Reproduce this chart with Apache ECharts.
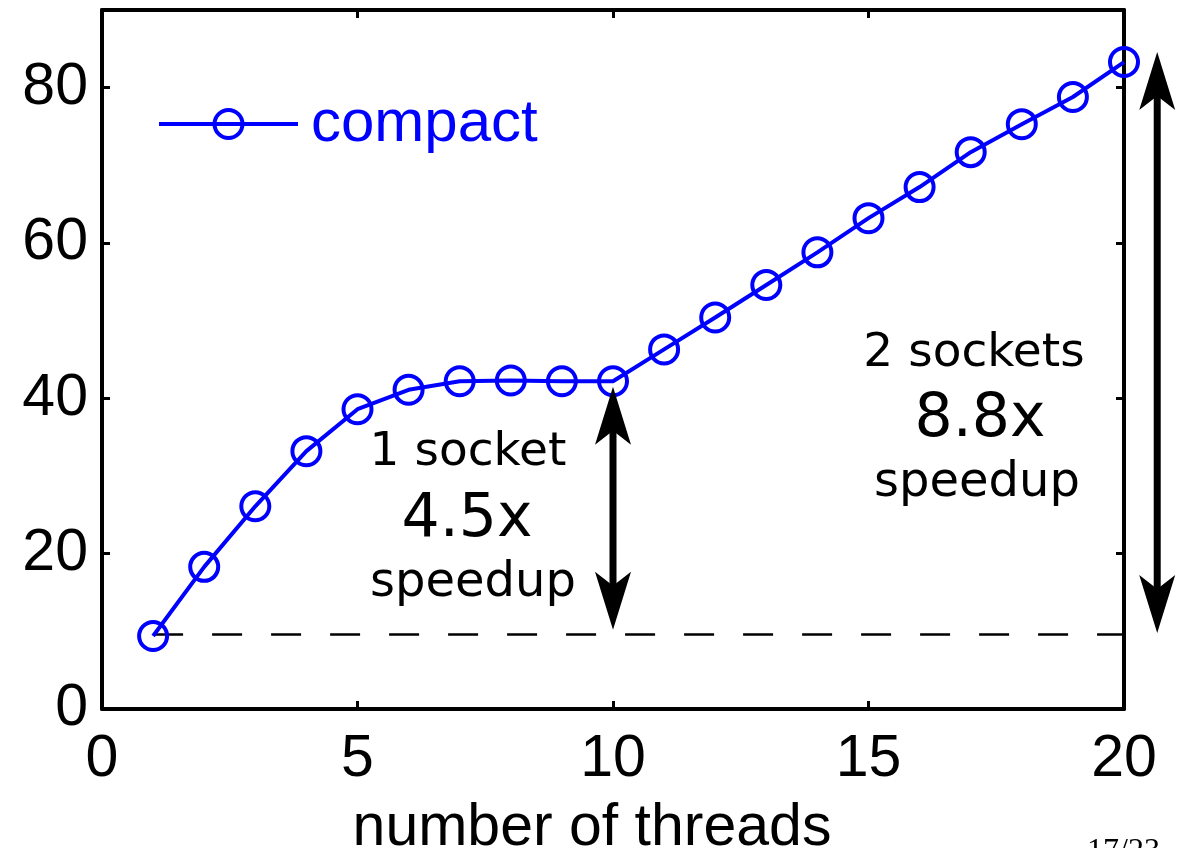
<!DOCTYPE html>
<html>
<head>
<meta charset="utf-8">
<script src="https://cdn.jsdelivr.net/npm/echarts@6/dist/echarts.min.js"></script>
<style>
  html, body { margin: 0; padding: 0; background: #fff; }
  #chart { width: 1179px; height: 848px; }
</style>
</head>
<body>
<div id="chart"></div>
<script>
// Throughput versus thread count, threads placed compactly on sockets
const threads = [1, 2, 3, 4, 5, 6, 7, 8, 9, 10, 11, 12, 13, 14, 15, 16, 17, 18, 19, 20];
const compact = [9.4, 18.3, 26.1, 33.2, 38.6, 41.1, 42.2, 42.3, 42.2, 42.2,
                 46.3, 50.4, 54.6, 58.8, 63.2, 67.2, 71.7, 75.3, 78.8, 83.3];

// single-thread reference level (dashed line)
const baselineX = [1, 20];
const baselineY = [9.6, 9.6];

// double-headed speedup arrows: x position, lower tip, upper tip
const arrowX = [10, 20.65];
const arrowLow = [10.2, 9.8];
const arrowHigh = [41.5, 84.6];

const xTicks = [0, 5, 10, 15, 20];
const yTicks = [0, 20, 40, 60, 80];

const BLUE = '#0000ff';
const SANS = 'Liberation Sans, Arial, Helvetica, sans-serif';
const DEJAVU = 'DejaVu Sans, sans-serif';

const chart = echarts.init(document.getElementById('chart'));

function frameAxis(extra) {
  return Object.assign({
    type: 'value',
    axisLine: { show: true, onZero: false, lineStyle: { color: '#000', width: 4 } },
    axisTick: { show: true, inside: true, length: 8, lineStyle: { color: '#000', width: 3 } },
    splitLine: { show: false },
    axisLabel: { show: false }
  }, extra);
}

// annotation text, placed by its baseline
function note(text, cx, baseline, size) {
  return {
    type: 'text', x: cx, y: baseline - 0.78 * size,
    style: { text: text, font: size + 'px ' + DEJAVU, fill: '#000', textAlign: 'center', textVerticalAlign: 'top' }
  };
}

const option = {
  backgroundColor: '#fff',
  animation: false,
  grid: { left: 102, right: 55, top: 10, bottom: 139, containLabel: false, outerBoundsMode: 'none' },
  legend: {
    data: ['compact'],
    left: 157,
    top: 94,
    padding: 0,
    itemWidth: 139,
    itemHeight: 35,
    lineStyle: { width: 4 },
    itemStyle: { borderWidth: 4 },
    textStyle: { color: BLUE, fontSize: 60, fontFamily: SANS, padding: [0, 0, 0, 8] }
  },
  xAxis: [
    frameAxis({
      position: 'bottom',
      min: xTicks[0], max: xTicks[xTicks.length - 1], interval: xTicks[1] - xTicks[0],
      axisLabel: { show: true, color: '#000', fontSize: 59, fontFamily: SANS, margin: 21 },
      name: 'number of threads',
      nameLocation: 'middle',
      nameGap: 90,
      nameTextStyle: { color: '#000', fontSize: 59, fontFamily: SANS, padding: [0, 42, 0, 0] }
    }),
    frameAxis({
      position: 'top',
      min: xTicks[0], max: xTicks[xTicks.length - 1], interval: xTicks[1] - xTicks[0]
    })
  ],
  yAxis: [
    frameAxis({
      position: 'left',
      min: yTicks[0], max: 90, interval: yTicks[1] - yTicks[0],
      axisLabel: { show: true, color: '#000', fontSize: 59, fontFamily: SANS, margin: 14, showMaxLabel: false }
    }),
    frameAxis({
      position: 'right',
      min: yTicks[0], max: 90, interval: yTicks[1] - yTicks[0]
    })
  ],
  series: [
    {
      name: 'baseline',
      type: 'line',
      xAxisIndex: 0, yAxisIndex: 0,
      data: baselineX.map((x, i) => [x, baselineY[i]]),
      symbol: 'none',
      lineStyle: { color: '#000', width: 2.5, type: [30, 29] },
      silent: true,
      z: 1
    },
    {
      name: 'compact',
      type: 'line',
      xAxisIndex: 0, yAxisIndex: 0,
      data: threads.map((t, i) => [t, compact[i]]),
      symbol: 'circle',
      symbolSize: 28,
      color: BLUE,
      lineStyle: { color: BLUE, width: 4 },
      itemStyle: { color: 'rgba(0,0,0,0)', borderColor: BLUE, borderWidth: 4 },
      clip: false,
      z: 3
    },
    {
      name: 'arrows',
      type: 'custom',
      xAxisIndex: 0, yAxisIndex: 0,
      clip: false,
      silent: true,
      data: arrowX.map((x, i) => [x, arrowLow[i], arrowHigh[i]]),
      encode: { x: 0, y: [1, 2] },
      renderItem: function (params, api) {
        const top = api.coord([api.value(0), api.value(2)]);
        const bot = api.coord([api.value(0), api.value(1)]);
        const cx = top[0];
        const headLen = 58, half = 18, notch = 44, shaft = 7;
        return {
          type: 'group',
          children: [
            {
              type: 'rect',
              shape: { x: cx - shaft / 2, y: top[1] + notch - 2, width: shaft, height: bot[1] - top[1] - 2 * notch + 4 },
              style: { fill: '#000' }
            },
            {
              type: 'polygon',
              shape: { points: [[cx, top[1]], [cx + half, top[1] + headLen], [cx, top[1] + notch], [cx - half, top[1] + headLen]] },
              style: { fill: '#000' }
            },
            {
              type: 'polygon',
              shape: { points: [[cx, bot[1]], [cx + half, bot[1] - headLen], [cx, bot[1] - notch], [cx - half, bot[1] - headLen]] },
              style: { fill: '#000' }
            }
          ]
        };
      },
      z: 4
    }
  ],
  graphic: [
    note('1 socket', 468, 466, 47),
    note('4.5x', 467, 537, 60),
    note('speedup', 473, 597, 48),
    note('2 sockets', 974, 367, 47),
    note('8.8x', 980, 437, 60),
    note('speedup', 977, 497, 48),
    { type: 'text', x: 1087, y: 836, style: { text: '17/23', font: '32px Liberation Serif, serif', fill: '#000', textAlign: 'left', textVerticalAlign: 'top' } }
  ]
};

chart.setOption(option);
</script>
</body>
</html>
